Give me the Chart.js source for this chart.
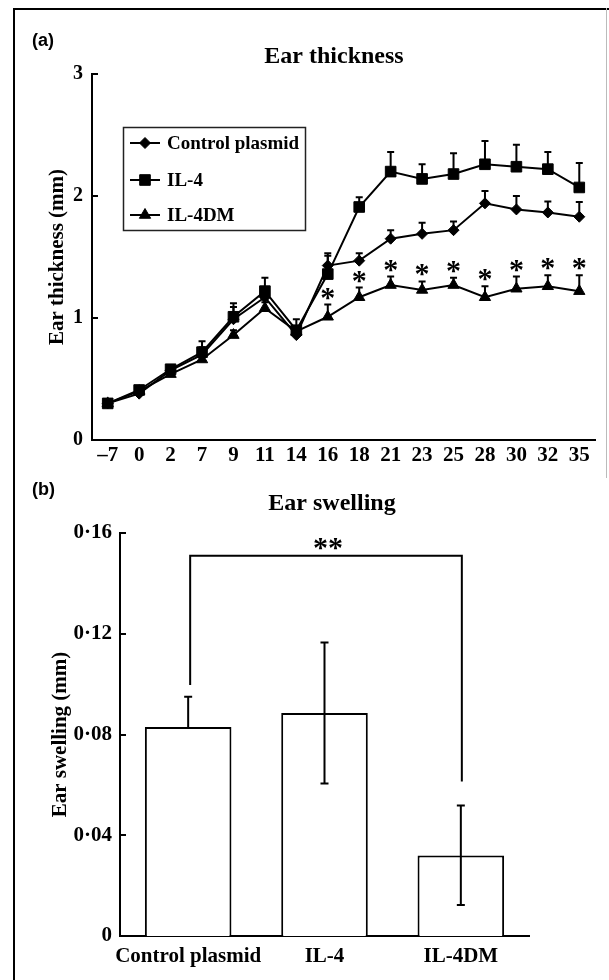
<!DOCTYPE html>
<html><head><meta charset="utf-8">
<script src="https://cdn.jsdelivr.net/npm/chart.js@4"></script>
<style>
html,body{margin:0;padding:0;background:#fff;}
body{width:609px;height:980px;position:relative;overflow:hidden;}
#ca{position:absolute;left:0;top:0;}
#cb{position:absolute;left:0;top:480px;}
.lbl{position:absolute;font:bold 18px "Liberation Sans",Arial,sans-serif;line-height:20px;color:#000;}
.frame{position:absolute;background:#000;}
</style></head><body>
<canvas id="ca" width="609" height="480"></canvas>
<canvas id="cb" width="609" height="500"></canvas>
<div class="frame" style="left:13px;top:8px;width:2px;height:972px"></div>
<div class="frame" style="left:13px;top:8px;width:596px;height:2px"></div>
<div class="frame" style="left:606px;top:8px;width:1px;height:470px;background:#bbb"></div>
<div class="lbl" style="left:32px;top:30px">(a)</div>
<div class="lbl" style="left:32px;top:479px">(b)</div>
<script>
// ---------- Panel (a) data ----------
const days = ['\u20137','0','2','7','9','11','14','16','18','21','23','25','28','30','32','35'];
const controlPlasmid = [0.30,0.38,0.57,0.70,0.99,1.17,0.86,1.43,1.47,1.65,1.69,1.72,1.94,1.89,1.865,1.83];
const il4 = [0.30,0.41,0.58,0.72,1.01,1.22,0.90,1.36,1.91,2.20,2.14,2.18,2.26,2.24,2.22,2.07];
const il4dm = [0.30,0.40,0.54,0.66,0.86,1.08,0.89,1.01,1.17,1.27,1.23,1.27,1.17,1.24,1.26,1.22];
const controlErr = [0.01,0.02,0.03,0.06,0.10,0.08,0.04,0.08,0.06,0.07,0.09,0.07,0.10,0.11,0.09,0.12];
const il4Err = [0.01,0.02,0.03,0.09,0.11,0.11,0.09,0.17,0.08,0.16,0.12,0.17,0.19,0.18,0.14,0.20];
const il4dmErr = [0.01,0.02,0.02,0.03,0.04,0.05,0.03,0.10,0.08,0.07,0.07,0.06,0.09,0.10,0.09,0.13];
const significantA = [0,0,0,0,0,0,0,1,1,1,1,1,1,1,1,1];
const yTickValsA = [0,1,2,3];
const yTickLabelsA = ['0','1','2','3'];
const seriesNamesA = ['Control plasmid','IL-4','IL-4DM'];

// ---------- Panel (b) data ----------
const groups = ['Control plasmid','IL-4','IL-4DM'];
const swelling = [0.083,0.0885,0.032];
const swellErrUp = [0.012,0.028,0.0198];
const swellErrDown = [0,0.028,0.0197];
const bracketTop = 0.151;
const bracketDrops = [0.0997,null,0.0613];
const bracketLabel = '**';
const yTickValsB = [0,0.04,0.08,0.12,0.16];
const yTickLabelsB = ['0','0\u00b704','0\u00b708','0\u00b712','0\u00b716'];

const BLACK = '#000';
const SERIF = '"Liberation Serif","Times New Roman",Times,serif';

function drawMarker(ctx, style, r, x, y){
  ctx.save();
  ctx.fillStyle = BLACK; ctx.strokeStyle = BLACK; ctx.lineWidth = 1;
  if (Chart.helpers && Chart.helpers.drawPoint) {
    Chart.helpers.drawPoint(ctx, {pointStyle: style, radius: r, rotation: 0, borderWidth: 1}, x, y);
  } else {
    ctx.beginPath();
    if (style === 'rect') { const s = r*Math.SQRT1_2; ctx.rect(x-s,y-s,2*s,2*s); }
    else if (style === 'rectRot') { ctx.moveTo(x-r,y); ctx.lineTo(x,y-r); ctx.lineTo(x+r,y); ctx.lineTo(x,y+r); ctx.closePath(); }
    else { ctx.moveTo(x,y-r); ctx.lineTo(x+r*0.866,y+r*0.5); ctx.lineTo(x-r*0.866,y+r*0.5); ctx.closePath(); }
    ctx.fill(); ctx.stroke();
  }
  ctx.restore();
}

function drawCenteredText(ctx, text, font, x, cy){
  ctx.save();
  ctx.font = font; ctx.fillStyle = BLACK; ctx.textAlign = 'center'; ctx.textBaseline = 'alphabetic';
  const m = ctx.measureText(text);
  const asc = m.actualBoundingBoxAscent, desc = m.actualBoundingBoxDescent;
  ctx.fillText(text, x, cy + (asc - desc)/2);
  ctx.restore();
}

const inwardTicks = {
  id: 'inwardTicks',
  afterDraw(chart){
    const ctx = chart.ctx, y = chart.scales.y, left = chart.chartArea.left;
    ctx.save(); ctx.strokeStyle = BLACK; ctx.lineWidth = 2;
    y.ticks.forEach(t => {
      const py = Math.round(y.getPixelForValue(t.value));
      ctx.beginPath(); ctx.moveTo(left, py); ctx.lineTo(left + 6, py); ctx.stroke();
    });
    ctx.restore();
  }
};

function mkDs(label, data, style, radius){
  return {label, data, borderColor: BLACK, backgroundColor: BLACK, borderWidth: 2,
    pointStyle: style, pointRadius: radius, pointHoverRadius: radius, pointBorderWidth: 1,
    pointBackgroundColor: BLACK, pointBorderColor: BLACK, tension: 0, fill: false};
}
const errsA = [controlErr, il4Err, il4dmErr];

const panelAPlugin = {
  id: 'panelA',
  beforeDatasetsDraw(chart){
    const ctx = chart.ctx, x = chart.scales.x, y = chart.scales.y;
    ctx.save(); ctx.strokeStyle = BLACK; ctx.lineWidth = 2;
    chart.data.datasets.forEach((ds, di) => {
      ds.data.forEach((v, i) => {
        const px = x.getPixelForValue(i), p0 = y.getPixelForValue(v), p1 = y.getPixelForValue(v + errsA[di][i]);
        ctx.beginPath(); ctx.moveTo(px, p0); ctx.lineTo(px, p1);
        ctx.moveTo(px - 3.5, p1); ctx.lineTo(px + 3.5, p1); ctx.stroke();
      });
    });
    ctx.restore();
  },
  afterDatasetsDraw(chart){
    const ctx = chart.ctx, x = chart.scales.x, y = chart.scales.y;
    significantA.forEach((s, i) => {
      if (!s) return;
      const px = x.getPixelForValue(i), py = y.getPixelForValue(il4dm[i] + il4dmErr[i]) - 11;
      drawCenteredText(ctx, '*', 'bold 30px ' + SERIF, px, py);
    });
  },
  afterDraw(chart){
    const ctx = chart.ctx;
    ctx.save();
    ctx.font = 'bold 24px ' + SERIF; ctx.fillStyle = BLACK; ctx.textAlign = 'center'; ctx.textBaseline = 'alphabetic';
    ctx.fillText('Ear thickness', 334, 63);
    // legend box
    ctx.strokeStyle = '#222'; ctx.lineWidth = 1.5;
    ctx.strokeRect(123.5, 127.5, 182, 103);
    const rows = [143, 180, 215];
    chart.data.datasets.forEach((ds, i) => {
      const yy = rows[i];
      ctx.strokeStyle = BLACK; ctx.lineWidth = 2;
      ctx.beginPath(); ctx.moveTo(130, yy); ctx.lineTo(160, yy); ctx.stroke();
      drawMarker(ctx, ds.pointStyle, ds.pointRadius, 145, yy);
      ctx.font = 'bold 19px ' + SERIF; ctx.fillStyle = BLACK; ctx.textAlign = 'left'; ctx.textBaseline = 'middle';
      ctx.fillText(ds.label, 167, yy + 1);
    });
    ctx.restore();
  }
};

new Chart(document.getElementById('ca'), {
  type: 'line',
  data: {
    labels: days,
    datasets: [
      mkDs(seriesNamesA[0], controlPlasmid, 'rectRot', 5.5),
      mkDs(seriesNamesA[1], il4, 'rect', 7.5),
      mkDs(seriesNamesA[2], il4dm, 'triangle', 6.5)
    ]
  },
  options: {
    responsive: false, animation: false, devicePixelRatio: 1,
    layout: {padding: {top: 74, right: 14, bottom: 0, left: 0}},
    plugins: {legend: {display: false}, title: {display: false}, tooltip: {enabled: false}},
    scales: {
      x: {
        offset: true,
        grid: {display: false, drawTicks: false},
        border: {display: true, color: BLACK, width: 2},
        ticks: {color: BLACK, font: {family: SERIF, size: 21, weight: 'bold'}, padding: 3, autoSkip: false, maxRotation: 0, minRotation: 0},
        afterFit(s){ s.height = 40; }
      },
      y: {
        min: 0, max: 3,
        afterBuildTicks(s){ s.ticks = yTickValsA.map(v => ({value: v})); },
        grid: {display: false, drawTicks: false},
        border: {display: true, color: BLACK, width: 2},
        ticks: {color: BLACK, font: {family: SERIF, size: 20, weight: 'bold'}, padding: 9, callback: (v, i) => yTickLabelsA[i]},
        title: {display: true, text: 'Ear thickness (mm)', color: BLACK, font: {family: SERIF, size: 21, weight: 'bold'}, padding: {top: 45, bottom: 0}},
        afterFit(s){ s.width = 92; }
      }
    }
  },
  plugins: [inwardTicks, panelAPlugin]
});

// ---------- Panel (b) ----------
const panelBPlugin = {
  id: 'panelB',
  afterDatasetsDraw(chart){
    const ctx = chart.ctx, x = chart.scales.x, y = chart.scales.y;
    ctx.save(); ctx.strokeStyle = BLACK; ctx.lineWidth = 2;
    swelling.forEach((v, i) => {
      const px = x.getPixelForValue(i);
      const up = y.getPixelForValue(v + swellErrUp[i]);
      const dn = y.getPixelForValue(v - swellErrDown[i]);
      ctx.beginPath(); ctx.moveTo(px, dn); ctx.lineTo(px, up);
      ctx.moveTo(px - 4, up); ctx.lineTo(px + 4, up);
      if (swellErrDown[i] > 0) { ctx.moveTo(px - 4, dn); ctx.lineTo(px + 4, dn); }
      ctx.stroke();
    });
    // significance bracket
    const idx = bracketDrops.map((d, i) => d === null ? -1 : i).filter(i => i >= 0);
    const top = y.getPixelForValue(bracketTop);
    const xl = x.getPixelForValue(idx[0]) + 2, xr = x.getPixelForValue(idx[idx.length - 1]) + 1;
    ctx.beginPath();
    ctx.moveTo(xl, y.getPixelForValue(bracketDrops[idx[0]]));
    ctx.lineTo(xl, top); ctx.lineTo(xr, top);
    ctx.lineTo(xr, y.getPixelForValue(bracketDrops[idx[idx.length - 1]]));
    ctx.stroke();
    ctx.restore();
    drawCenteredText(ctx, bracketLabel, 'bold 30px ' + SERIF, (xl + xr) / 2 + 2, top - 12);
  },
  afterDraw(chart){
    const ctx = chart.ctx;
    ctx.save();
    ctx.font = 'bold 24px ' + SERIF; ctx.fillStyle = BLACK; ctx.textAlign = 'center'; ctx.textBaseline = 'alphabetic';
    ctx.fillText('Ear swelling', 332, 30);
    ctx.restore();
  }
};

new Chart(document.getElementById('cb'), {
  type: 'bar',
  data: {
    labels: groups,
    datasets: [{
      label: 'Ear swelling', data: swelling,
      backgroundColor: '#fff', borderColor: BLACK, borderWidth: 2,
      barPercentage: 0.635, categoryPercentage: 1
    }]
  },
  options: {
    responsive: false, animation: false, devicePixelRatio: 1,
    layout: {padding: {top: 53, right: 80, bottom: 0, left: 0}},
    plugins: {legend: {display: false}, title: {display: false}, tooltip: {enabled: false}},
    scales: {
      x: {
        grid: {display: false, drawTicks: false},
        border: {display: true, color: BLACK, width: 2},
        ticks: {color: BLACK, font: {family: SERIF, size: 21, weight: 'bold'}, padding: 8, autoSkip: false, maxRotation: 0, minRotation: 0},
        afterFit(s){ s.height = 44; }
      },
      y: {
        min: 0, max: 0.16,
        afterBuildTicks(s){ s.ticks = yTickValsB.map(v => ({value: v})); },
        grid: {display: false, drawTicks: false},
        border: {display: true, color: BLACK, width: 2},
        ticks: {color: BLACK, font: {family: SERIF, size: 21, weight: 'bold'}, padding: 8, callback: (v, i) => yTickLabelsB[i]},
        title: {display: true, text: 'Ear swelling (mm)', color: BLACK, font: {family: SERIF, size: 21, weight: 'bold'}, padding: {top: 48, bottom: 0}},
        afterFit(s){ s.width = 120; }
      }
    }
  },
  plugins: [inwardTicks, panelBPlugin]
});
</script>
</body></html>
